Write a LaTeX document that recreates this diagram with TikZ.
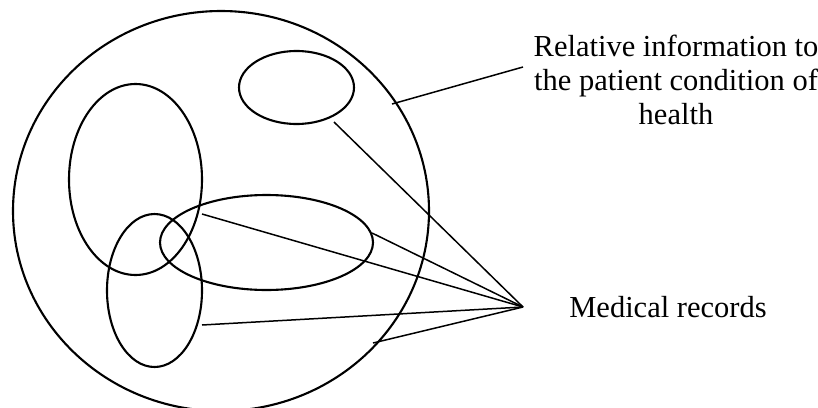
\documentclass[tikz,border=0pt]{standalone}
\usepackage{fontspec}
\setmainfont{Liberation Serif}
\usetikzlibrary{shapes.geometric}
\begin{document}
\begin{tikzpicture}[x=1pt,y=-1pt,
  oval/.style={draw=black, ellipse, line width=2.1pt, inner sep=0pt},
  link/.style={draw=black, line width=1.5pt},
  lbl/.style={inner sep=0pt, font=\fontsize{30.5}{34}\selectfont, align=center}]
\useasboundingbox (0,0) rectangle (818,407);
\node[oval, minimum width=416pt, minimum height=400pt] (world) at (221,211) {};
\node[oval, minimum width=115pt, minimum height=73pt] (topov) at (296.5,87.5) {};
\node[oval, minimum width=133pt, minimum height=191pt] (tall) at (135.5,179.5) {};
\node[oval, minimum width=213pt, minimum height=95pt] (wide) at (266.5,242.5) {};
\node[oval, minimum width=95pt, minimum height=153pt] (low) at (154.5,290.5) {};
\coordinate (hub) at (523,307);
\coordinate (p1) at (334,122);
\coordinate (p2) at (372,233);
\coordinate (p3) at (202,214);
\coordinate (p4) at (202,325);
\coordinate (p5) at (373,343);
\coordinate (q1) at (392,104);
\coordinate (q2) at (523,67);
\draw[link] (p1) -- (hub);
\draw[link] (p2) -- (hub);
\draw[link] (p3) -- (hub);
\draw[link] (p4) -- (hub);
\draw[link] (p5) -- (hub);
\draw[link] (q1) -- (q2);
\node[lbl, anchor=base] (info) at (676,124) {Relative information to\\the patient condition of\\health};
\node[lbl, anchor=base] (med) at (668,317) {Medical records};
\end{tikzpicture}
\end{document}
